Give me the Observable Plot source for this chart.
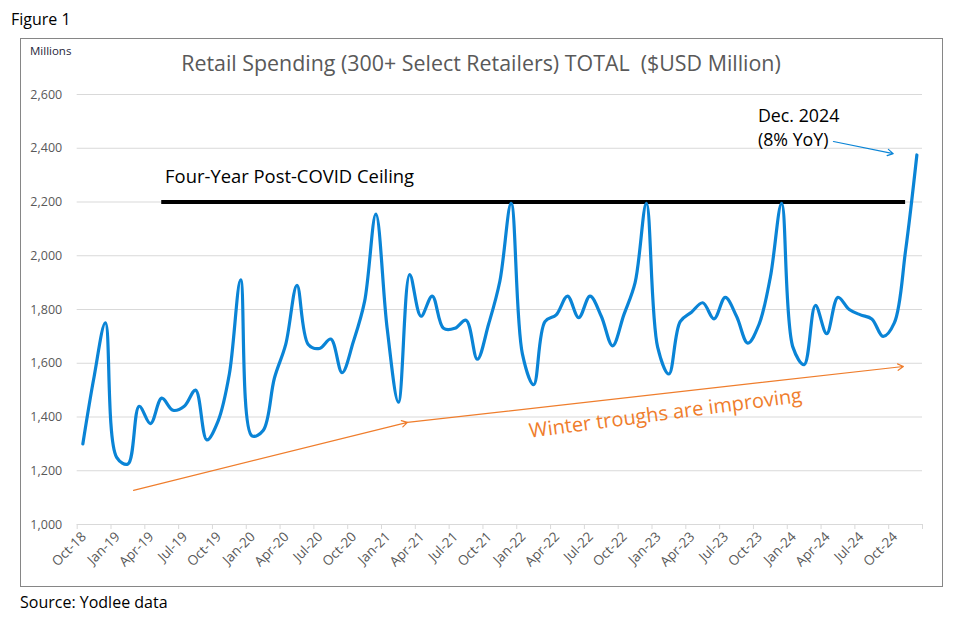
<!DOCTYPE html>
<html>
<head>
<meta charset="utf-8">
<script src="https://cdn.jsdelivr.net/npm/d3@7"></script>
<script src="https://cdn.jsdelivr.net/npm/@observablehq/plot@0.6"></script>
<style>
  html, body { margin: 0; padding: 0; background: #fff; }
  body { width: 968px; height: 623px; position: relative; overflow: hidden; font-family: "Open Sans", "Noto Sans", sans-serif; }
  #fig { position: absolute; left: 11px; top: 8px; font-size: 16px; color: #000; }
  #frame { position: absolute; left: 20px; top: 38px; width: 921px; height: 547px; border: 1px solid #868686; }
  #millions { position: absolute; left: 30px; top: 43px; font-size: 11.5px; color: #1f1f3a; }
  #title { position: absolute; left: 0; width: 962px; top: 48px; text-align: center; font-size: 21.4px; color: #595959; white-space: pre; }
  #source { position: absolute; left: 20px; top: 591px; font-size: 16px; color: #000; }
  #chart { position: absolute; left: 21px; top: 39px; }
</style>
</head>
<body>
<div id="fig">Figure 1</div>
<div id="frame"></div>
<div id="chart"></div>
<div id="millions">Millions</div>
<div id="title">Retail Spending (300+ Select Retailers) TOTAL  ($USD Million)</div>
<div id="source">Source: Yodlee data</div>
<script>
// Monthly retail spending, Oct-18 .. Dec-24 ($USD million)
const values = [
  1300, 1550, 1750,             // Oct-18 .. Dec-18
  1250, 1225, 1440, 1375, 1470, 1425, 1440, 1500, 1315, 1385, 1560, 1910, // 2019
  1330, 1350, 1545, 1670, 1890, 1670, 1655, 1690, 1565, 1680, 1830, 2155, // 2020
  1730, 1455, 1930, 1775, 1850, 1730, 1730, 1760, 1615, 1745, 1905, 2195, // 2021
  1635, 1520, 1755, 1780, 1850, 1770, 1850, 1775, 1665, 1780, 1900, 2195, // 2022
  1660, 1560, 1755, 1790, 1825, 1765, 1845, 1775, 1675, 1745, 1920, 2195, // 2023
  1660, 1595, 1815, 1710, 1845, 1800, 1780, 1765, 1700, 1750, 2020, 2375  // 2024
];
const tickLabels = ["Oct-18","Jan-19","Apr-19","Jul-19","Oct-19","Jan-20","Apr-20","Jul-20","Oct-20",
  "Jan-21","Apr-21","Jul-21","Oct-21","Jan-22","Apr-22","Jul-22","Oct-22","Jan-23","Apr-23","Jul-23",
  "Oct-23","Jan-24","Apr-24","Jul-24","Oct-24"];
const yTicks = [1000, 1200, 1400, 1600, 1800, 2000, 2200, 2400, 2600];

// annotations (month index, value)
const ceiling = [{x1: 7, x2: 73, y: 2200}];
const ceilingLabel = [{x: 7.3, y: 2291, text: "Four-Year Post-COVID Ceiling"}];
const troughArrows = [
  {x1: 4.5, y1: 1127, x2: 28.8, y2: 1380},
  {x1: 28.8, y1: 1380, x2: 72.8, y2: 1588}
];
const troughLabel = [{x: 51.7, y: 1413, text: "Winter troughs are improving"}];
const decLabel = [{x: 59.9, y: 2480, text: "Dec. 2024\n(8% YoY)"}];
const decArrow = [{x1: 66.6, y1: 2425, x2: 71.9, y2: 2380}];

const series = values.map((v, i) => ({i, v}));
const labelRows = tickLabels.map((t, k) => ({i: k * 3, t}));
const boundaryTicks = d3.range(tickLabels.length + 1).map(k => -0.5 + 3 * k);

const orange = "#ef7d2c";
const blue = "#0a84d6";

const chart = Plot.plot({
  width: 921,
  height: 547,
  marginLeft: 55.7,
  marginRight: 20,
  marginTop: 55,
  marginBottom: 62,
  style: {fontFamily: "'Open Sans', 'Noto Sans', sans-serif", background: "transparent"},
  x: {domain: [-0.5, values.length - 0.5], axis: null},
  y: {domain: [1000, 2600], axis: null},
  marks: [
    Plot.gridY(yTicks, {stroke: "#d9d9d9", strokeOpacity: 1, strokeWidth: 1}),
    Plot.axisY(yTicks, {tickSize: 0, tickPadding: 15, tickFormat: d3.format(","), fill: "#595959", fontSize: 12.5}),
    Plot.axisX(boundaryTicks, {tickSize: 5, tickFormat: () => "", stroke: "#d9d9d9", anchor: "bottom"}),
    Plot.text(labelRows, {x: "i", text: "t", frameAnchor: "bottom", dy: 13, dx: 4, rotate: -45, textAnchor: "end", fill: "#595959", fontSize: 13.5}),
    Plot.ruleY(ceiling, {x1: "x1", x2: "x2", y: "y", stroke: "#000", strokeWidth: 4}),
    Plot.text(ceilingLabel, {x: "x", y: "y", text: "text", textAnchor: "start", fontSize: 18.4, fill: "#000"}),
    Plot.arrow(troughArrows, {x1: "x1", y1: "y1", x2: "x2", y2: "y2", stroke: orange, strokeWidth: 1.2, headLength: 8}),
    Plot.text(troughLabel, {x: "x", y: "y", text: "text", rotate: -7.5, fontSize: 20, fill: orange}),
    Plot.line(series, {x: "i", y: "v", stroke: blue, strokeWidth: 3.2, curve: "catmull-rom"}),
    Plot.text(decLabel, {x: "x", y: "y", text: "text", textAnchor: "start", lineAnchor: "middle", lineHeight: 1.35, fontSize: 17.8, fill: "#000"}),
    Plot.arrow(decArrow, {x1: "x1", y1: "y1", x2: "x2", y2: "y2", stroke: blue, strokeWidth: 1.2, headLength: 8})
  ]
});
document.getElementById("chart").appendChild(chart);
</script>
</body>
</html>
